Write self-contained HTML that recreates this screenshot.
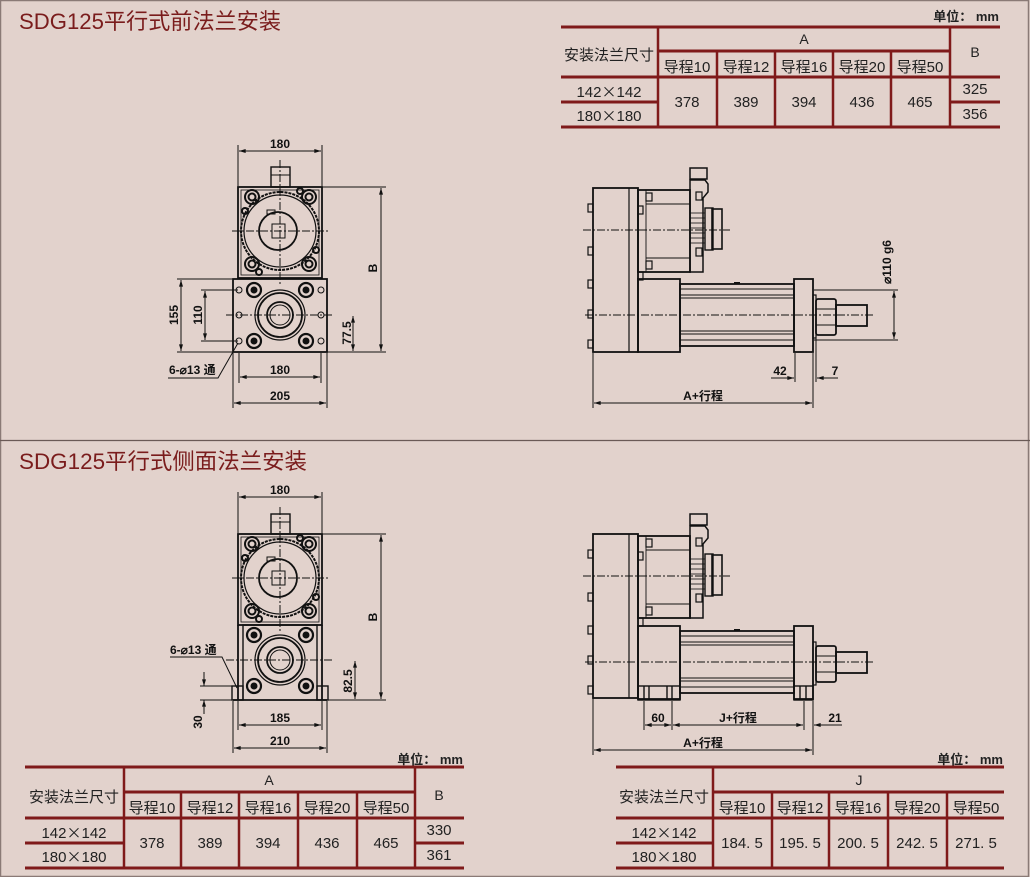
<!DOCTYPE html>
<html><head><meta charset="utf-8"><style>
html,body{margin:0;padding:0;background:#e2d2cc;}
svg{display:block}
.t{font-family:"Liberation Sans","Noto Sans CJK SC",sans-serif;}
.c{font-family:"Noto Sans CJK SC",sans-serif;}
.d{font-family:"Liberation Sans","Noto Sans CJK SC",sans-serif;font-size:12px;font-weight:bold;fill:#111;}
</style></head><body>
<svg width="1030" height="877" viewBox="0 0 1030 877" xmlns="http://www.w3.org/2000/svg">
<defs>
<marker id="a" viewBox="0 0 10 6" refX="10" refY="3" markerWidth="8" markerHeight="4" orient="auto-start-reverse"><path d="M0,0L10,3L0,6z" fill="#111"/></marker>
<g id="front">
  <rect x="238" y="187" width="84" height="91" fill="none" stroke="#111" stroke-width="1.8"/>
  <rect x="241" y="190" width="78" height="85" fill="none" stroke="#111" stroke-width="0.8"/>
  <rect x="271" y="167" width="19" height="20" fill="none" stroke="#111" stroke-width="1.4"/>
  <line x1="271" y1="175" x2="290" y2="175" stroke="#111" stroke-width="1"/>
  <circle cx="280" cy="231" r="39" fill="none" stroke="#111" stroke-width="2" stroke-dasharray="3 1"/>
  <circle cx="280" cy="231" r="36" fill="none" stroke="#111" stroke-width="1.2"/>
  <circle cx="278" cy="231" r="19" fill="none" stroke="#111" stroke-width="1.8"/>
  <rect x="272" y="224" width="13" height="14" fill="none" stroke="#111" stroke-width="1"/>
  <rect x="267" y="210" width="8" height="4" fill="none" stroke="#111" stroke-width="1"/>
  <g fill="none" stroke="#111" stroke-width="2">
   <circle cx="252" cy="197" r="7"/><circle cx="309" cy="197" r="7"/>
   <circle cx="252" cy="264" r="7"/><circle cx="309" cy="264" r="7"/>
   <circle cx="252" cy="197" r="3.5"/><circle cx="309" cy="197" r="3.5"/>
   <circle cx="252" cy="264" r="3.5"/><circle cx="309" cy="264" r="3.5"/>
   <circle cx="300" cy="191" r="3"/><circle cx="259" cy="272" r="3"/>
   <circle cx="245" cy="211" r="3"/><circle cx="316" cy="250" r="3"/>
  </g>
  <line x1="232" y1="231" x2="330" y2="231" stroke="#111" stroke-width="1" stroke-dasharray="8 2 2 2"/>
  <line x1="280" y1="160" x2="280" y2="285" stroke="#111" stroke-width="1" stroke-dasharray="8 2 2 2"/>
</g>
<g id="flangeC">
  <circle cx="280" cy="0" r="25" fill="none" stroke="#111" stroke-width="1.2"/>
  <circle cx="280" cy="0" r="22" fill="none" stroke="#111" stroke-width="1.8"/>
  <circle cx="280" cy="0" r="13" fill="none" stroke="#111" stroke-width="1.8"/>
  <circle cx="280" cy="0" r="10" fill="none" stroke="#111" stroke-width="1"/>
  <g fill="none" stroke="#111" stroke-width="2.2">
   <circle cx="254" cy="-25" r="7"/><circle cx="306" cy="-25" r="7"/>
   <circle cx="254" cy="26" r="7"/><circle cx="306" cy="26" r="7"/>
  </g>
  <g fill="#111"><circle cx="254" cy="-25" r="3.5"/><circle cx="306" cy="-25" r="3.5"/><circle cx="254" cy="26" r="3.5"/><circle cx="306" cy="26" r="3.5"/></g>
  <line x1="226" y1="0" x2="334" y2="0" stroke="#111" stroke-width="1" stroke-dasharray="8 2 2 2"/>
</g>
<g id="side">
  <rect x="593" y="0" width="45" height="164" fill="none" stroke="#111" stroke-width="1.8"/>
  <line x1="629" y1="0" x2="629" y2="164" stroke="#111" stroke-width="1.2"/>
  <g fill="none" stroke="#111" stroke-width="1.2">
   <rect x="588" y="16" width="5" height="8"/><rect x="588" y="59" width="5" height="8"/>
   <rect x="588" y="92" width="5" height="8"/><rect x="588" y="122" width="5" height="8"/><rect x="588" y="152" width="5" height="8"/>
  </g>
  <rect x="638" y="2" width="52" height="82" fill="none" stroke="#111" stroke-width="1.8"/>
  <rect x="646" y="2" width="44" height="82" fill="none" stroke="#111" stroke-width="0.9"/>
  <line x1="646" y1="16" x2="690" y2="16" stroke="#111"/><line x1="646" y1="70" x2="690" y2="70" stroke="#111"/>
  <g fill="none" stroke="#111" stroke-width="1.2">
   <rect x="646" y="5" width="6" height="8"/><rect x="646" y="73" width="6" height="8"/>
   <rect x="638" y="18" width="5" height="8"/><rect x="696" y="4" width="6" height="8"/><rect x="696" y="60" width="6" height="8"/>
  </g>
  <path d="M690,-8 L705,-8 L708,-4 L708,4 L703,10 L703,84 L690,84 Z" fill="none" stroke="#111" stroke-width="1.5"/>
  <rect x="690" y="-20" width="17" height="11" fill="none" stroke="#111" stroke-width="1.5"/>
  <g stroke="#111" stroke-width="0.8"><line x1="690" y1="25" x2="705" y2="25"/><line x1="690" y1="30" x2="705" y2="30"/><line x1="690" y1="35" x2="705" y2="35"/><line x1="690" y1="40" x2="705" y2="40"/><line x1="690" y1="45" x2="705" y2="45"/><line x1="690" y1="50" x2="705" y2="50"/><line x1="690" y1="55" x2="705" y2="55"/></g>
  <rect x="705" y="20" width="8" height="42" fill="none" stroke="#111" stroke-width="1.4"/>
  <rect x="712" y="21" width="10" height="40" fill="none" stroke="#111" stroke-width="1.6"/>
  <rect x="638" y="84" width="5" height="8" fill="none" stroke="#111" stroke-width="1.2"/>
  <line x1="583" y1="42" x2="730" y2="42" stroke="#111" stroke-width="1" stroke-dasharray="8 2 2 2"/>
</g>
<g id="cyl">
  <rect x="638" y="-36" width="42" height="73" fill="none" stroke="#111" stroke-width="1.8"/>
  <rect x="680" y="-31" width="114" height="62" fill="none" stroke="#111" stroke-width="1.8"/>
  <g stroke="#111" stroke-width="1"><line x1="680" y1="-26" x2="794" y2="-26"/><line x1="680" y1="-20" x2="794" y2="-20"/><line x1="680" y1="-17" x2="794" y2="-17"/><line x1="680" y1="16" x2="794" y2="16"/><line x1="680" y1="19" x2="794" y2="19"/><line x1="680" y1="25" x2="794" y2="25"/></g>
  <rect x="734" y="-33" width="6" height="2" fill="#111"/>
  <rect x="794" y="-36" width="19" height="73" fill="none" stroke="#111" stroke-width="1.8"/>
  <rect x="813" y="-20" width="3" height="43" fill="none" stroke="#111" stroke-width="1.2"/>
  <rect x="816" y="-16" width="20" height="36" rx="2" fill="none" stroke="#111" stroke-width="1.8"/>
  <line x1="816" y1="-6" x2="836" y2="-6" stroke="#111"/><line x1="816" y1="10" x2="836" y2="10" stroke="#111"/>
  <rect x="836" y="-10" width="31" height="21" fill="none" stroke="#111" stroke-width="1.8"/>
  <line x1="585" y1="0" x2="875" y2="0" stroke="#111" stroke-width="1" stroke-dasharray="8 2 2 2"/>
</g>
</defs>
<rect x="0.5" y="0.5" width="1028" height="876" fill="#e2d2cc" stroke="#8a7a76" stroke-width="1.5"/>
<line x1="0" y1="440.5" x2="1030" y2="440.5" stroke="#6a5a56" stroke-width="1.2"/>

<text class="t" x="19" y="29" font-size="22" fill="#7a1c1c" textLength="262" lengthAdjust="spacingAndGlyphs">SDG125平行式前法兰安装</text>
<text class="t" x="19" y="469" font-size="22" fill="#7a1c1c" textLength="288" lengthAdjust="spacingAndGlyphs">SDG125平行式侧面法兰安装</text>

<!-- ===== TOP FRONT VIEW ===== -->
<use href="#front"/>
<rect x="233" y="279" width="94" height="73" fill="none" stroke="#111" stroke-width="1.8"/>
<use href="#flangeC" y="315"/>
<g fill="none" stroke="#111" stroke-width="1"><circle cx="239" cy="290" r="3"/><circle cx="239" cy="315" r="3"/><circle cx="239" cy="341" r="3"/><circle cx="321" cy="290" r="3"/><circle cx="321" cy="315" r="3"/><circle cx="321" cy="341" r="3"/></g>
<g stroke="#111" stroke-width="1" fill="none">
 <line x1="238" y1="145" x2="238" y2="186"/><line x1="322" y1="145" x2="322" y2="186"/>
 <line x1="239" y1="151" x2="321" y2="151" marker-start="url(#a)" marker-end="url(#a)"/>
 <line x1="322" y1="187" x2="386" y2="187"/><line x1="327" y1="352" x2="386" y2="352"/>
 <line x1="381" y1="188" x2="381" y2="351" marker-start="url(#a)" marker-end="url(#a)"/>
 <line x1="177" y1="279" x2="232" y2="279"/><line x1="177" y1="352" x2="232" y2="352"/>
 <line x1="181" y1="280" x2="181" y2="351" marker-start="url(#a)" marker-end="url(#a)"/>
 <line x1="201" y1="290" x2="238" y2="290"/><line x1="201" y1="341" x2="238" y2="341"/>
 <line x1="205" y1="291" x2="205" y2="340" marker-start="url(#a)" marker-end="url(#a)"/>
 <line x1="353" y1="316" x2="353" y2="351" marker-start="url(#a)" marker-end="url(#a)"/>
 <line x1="239" y1="353" x2="239" y2="383"/><line x1="321" y1="353" x2="321" y2="383"/>
 <line x1="240" y1="377" x2="320" y2="377" marker-start="url(#a)" marker-end="url(#a)"/>
 <line x1="233" y1="353" x2="233" y2="408"/><line x1="327" y1="353" x2="327" y2="408"/>
 <line x1="234" y1="403" x2="326" y2="403" marker-start="url(#a)" marker-end="url(#a)"/>
 <polyline points="168,378 218,378 238,343"/>
</g>
<text class="d" x="280" y="148" text-anchor="middle">180</text>
<text class="d" x="280" y="374" text-anchor="middle">180</text>
<text class="d" x="280" y="400" text-anchor="middle">205</text>
<text class="d" x="169" y="374">6-⌀13 通</text>
<text class="d" transform="translate(377,268) rotate(-90)" text-anchor="middle">B</text>
<text class="d" transform="translate(178,315) rotate(-90)" text-anchor="middle">155</text>
<text class="d" transform="translate(202,315) rotate(-90)" text-anchor="middle">110</text>
<text class="d" transform="translate(351,333) rotate(-90)" text-anchor="middle">77.5</text>

<!-- ===== TOP SIDE VIEW ===== -->
<use href="#side" y="188"/>
<use href="#cyl" y="315"/>
<g stroke="#111" stroke-width="1" fill="none">
 <line x1="814" y1="290" x2="898" y2="290"/><line x1="814" y1="340" x2="898" y2="340"/>
 <line x1="894" y1="291" x2="894" y2="339" marker-start="url(#a)" marker-end="url(#a)"/>
 <line x1="593" y1="353" x2="593" y2="408"/><line x1="813" y1="353" x2="813" y2="408"/>
 <line x1="795" y1="353" x2="795" y2="382"/><line x1="816" y1="336" x2="816" y2="382"/>
 <line x1="771" y1="378" x2="794" y2="378" marker-end="url(#a)"/>
 <line x1="817" y1="378" x2="838" y2="378" marker-start="url(#a)"/>
 <line x1="594" y1="403" x2="812" y2="403" marker-start="url(#a)" marker-end="url(#a)"/>
</g>
<text class="d" x="780" y="375" text-anchor="middle">42</text>
<text class="d" x="835" y="375" text-anchor="middle">7</text>
<text class="d" x="703" y="400" text-anchor="middle">A+行程</text>
<text class="d" transform="translate(891,262) rotate(-90)" text-anchor="middle">⌀110 g6</text>

<!-- ===== BOTTOM FRONT VIEW ===== -->
<use href="#front" y="347"/>
<line x1="238" y1="625" x2="238" y2="700" stroke="#111" stroke-width="1.8"/>
<line x1="322" y1="625" x2="322" y2="700" stroke="#111" stroke-width="1.8"/>
<path d="M243,700 L243,625 L317,625 L317,700" fill="none" stroke="#111" stroke-width="1.4"/>
<line x1="233" y1="700" x2="327" y2="700" stroke="#111" stroke-width="1.8"/>
<g fill="none" stroke="#111" stroke-width="1.4"><rect x="232" y="686" width="11" height="14"/><rect x="317" y="686" width="11" height="14"/></g>
<use href="#flangeC" y="660"/>
<g stroke="#111" stroke-width="1" fill="none">
 <line x1="238" y1="492" x2="238" y2="533"/><line x1="322" y1="492" x2="322" y2="533"/>
 <line x1="239" y1="497" x2="321" y2="497" marker-start="url(#a)" marker-end="url(#a)"/>
 <line x1="322" y1="534" x2="386" y2="534"/><line x1="327" y1="700" x2="386" y2="700"/>
 <line x1="381" y1="535" x2="381" y2="699" marker-start="url(#a)" marker-end="url(#a)"/>
 <line x1="355" y1="661" x2="355" y2="699" marker-start="url(#a)" marker-end="url(#a)"/>
 <line x1="200" y1="686" x2="232" y2="686"/><line x1="200" y1="700" x2="232" y2="700"/>
 <line x1="204" y1="672" x2="204" y2="686" marker-end="url(#a)"/>
 <line x1="204" y1="714" x2="204" y2="700" marker-end="url(#a)"/>
 <line x1="238" y1="701" x2="238" y2="730"/><line x1="322" y1="701" x2="322" y2="730"/>
 <line x1="239" y1="725" x2="321" y2="725" marker-start="url(#a)" marker-end="url(#a)"/>
 <line x1="233" y1="701" x2="233" y2="753"/><line x1="327" y1="701" x2="327" y2="753"/>
 <line x1="234" y1="748" x2="326" y2="748" marker-start="url(#a)" marker-end="url(#a)"/>
 <polyline points="170,657 222,657 237,688"/>
</g>
<text class="d" x="280" y="494" text-anchor="middle">180</text>
<text class="d" x="280" y="722" text-anchor="middle">185</text>
<text class="d" x="280" y="745" text-anchor="middle">210</text>
<text class="d" x="170" y="654">6-⌀13 通</text>
<text class="d" transform="translate(377,617) rotate(-90)" text-anchor="middle">B</text>
<text class="d" transform="translate(352,681) rotate(-90)" text-anchor="middle">82.5</text>
<text class="d" transform="translate(202,722) rotate(-90)" text-anchor="middle">30</text>

<!-- ===== BOTTOM SIDE VIEW ===== -->
<use href="#side" y="534"/>
<use href="#cyl" y="662"/>
<g fill="none" stroke="#111" stroke-width="1.4">
 <rect x="638" y="686" width="42" height="14"/><rect x="794" y="686" width="19" height="14"/>
 <line x1="644" y1="686" x2="644" y2="700"/><line x1="649" y1="686" x2="649" y2="700"/>
 <line x1="667" y1="686" x2="667" y2="700"/><line x1="672" y1="686" x2="672" y2="700"/>
 <line x1="800" y1="686" x2="800" y2="700"/><line x1="806" y1="686" x2="806" y2="700"/>
</g>
<g stroke="#111" stroke-width="1" fill="none">
 <line x1="644" y1="701" x2="644" y2="730"/><line x1="672" y1="701" x2="672" y2="730"/>
 <line x1="804" y1="701" x2="804" y2="730"/><line x1="813" y1="701" x2="813" y2="755"/>
 <line x1="593" y1="698" x2="593" y2="755"/>
 <line x1="645" y1="725" x2="671" y2="725" marker-start="url(#a)" marker-end="url(#a)"/>
 <line x1="673" y1="725" x2="803" y2="725" marker-start="url(#a)" marker-end="url(#a)"/>
 <line x1="814" y1="725" x2="842" y2="725" marker-start="url(#a)"/>
 <line x1="594" y1="750" x2="812" y2="750" marker-start="url(#a)" marker-end="url(#a)"/>
</g>
<text class="d" x="658" y="722" text-anchor="middle">60</text>
<text class="d" x="738" y="722" text-anchor="middle">J+行程</text>
<text class="d" x="835" y="722" text-anchor="middle">21</text>
<text class="d" x="703" y="747" text-anchor="middle">A+行程</text>

<!-- ===== TABLES ===== -->
<g class="t" font-size="15" fill="#222">
<!-- top table -->
<text x="999" y="21" text-anchor="end" font-size="13" font-weight="bold">单位： mm</text>
<g stroke="#7f1a1a" stroke-width="3" fill="none">
 <line x1="561" y1="27" x2="1000" y2="27"/><line x1="561" y1="77" x2="1000" y2="77"/>
 <line x1="561" y1="102" x2="658" y2="102"/><line x1="950" y1="102" x2="1000" y2="102"/>
 <line x1="561" y1="127" x2="1000" y2="127"/><line x1="658" y1="51" x2="950" y2="51"/>
</g>
<g stroke="#7f1a1a" stroke-width="2.5">
 <line x1="658" y1="27" x2="658" y2="127"/><line x1="950" y1="27" x2="950" y2="127"/>
 <line x1="717" y1="51" x2="717" y2="127"/><line x1="775" y1="51" x2="775" y2="127"/>
 <line x1="833" y1="51" x2="833" y2="127"/><line x1="891" y1="51" x2="891" y2="127"/>
</g>
<text x="609" y="60" text-anchor="middle">安装法兰尺寸</text>
<text x="804" y="44" text-anchor="middle" font-size="14">A</text>
<text x="975" y="57" text-anchor="middle" font-size="14">B</text>
<text x="687" y="72" text-anchor="middle">导程10</text><text x="746" y="72" text-anchor="middle">导程12</text>
<text x="804" y="72" text-anchor="middle">导程16</text><text x="862" y="72" text-anchor="middle">导程20</text>
<text x="920" y="72" text-anchor="middle">导程50</text>
<text x="609" y="97" text-anchor="middle">142<tspan class="c">×</tspan>142</text><text x="609" y="121" text-anchor="middle">180<tspan class="c">×</tspan>180</text>
<text x="687" y="107" text-anchor="middle">378</text><text x="746" y="107" text-anchor="middle">389</text>
<text x="804" y="107" text-anchor="middle">394</text><text x="862" y="107" text-anchor="middle">436</text>
<text x="920" y="107" text-anchor="middle">465</text>
<text x="975" y="94" text-anchor="middle">325</text><text x="975" y="119" text-anchor="middle">356</text>

<!-- bottom left table -->
<text x="463" y="764" text-anchor="end" font-size="13" font-weight="bold">单位： mm</text>
<g stroke="#7f1a1a" stroke-width="3" fill="none">
 <line x1="25" y1="767" x2="464" y2="767"/><line x1="25" y1="818" x2="464" y2="818"/>
 <line x1="25" y1="843" x2="124" y2="843"/><line x1="415" y1="843" x2="464" y2="843"/>
 <line x1="25" y1="868" x2="464" y2="868"/><line x1="124" y1="792" x2="415" y2="792"/>
</g>
<g stroke="#7f1a1a" stroke-width="2.5">
 <line x1="124" y1="767" x2="124" y2="868"/><line x1="415" y1="767" x2="415" y2="868"/>
 <line x1="181" y1="792" x2="181" y2="868"/><line x1="239" y1="792" x2="239" y2="868"/>
 <line x1="298" y1="792" x2="298" y2="868"/><line x1="357" y1="792" x2="357" y2="868"/>
</g>
<text x="74" y="802" text-anchor="middle">安装法兰尺寸</text>
<text x="269" y="785" text-anchor="middle" font-size="14">A</text>
<text x="439" y="800" text-anchor="middle" font-size="14">B</text>
<text x="152" y="813" text-anchor="middle">导程10</text><text x="210" y="813" text-anchor="middle">导程12</text>
<text x="268" y="813" text-anchor="middle">导程16</text><text x="327" y="813" text-anchor="middle">导程20</text>
<text x="386" y="813" text-anchor="middle">导程50</text>
<text x="74" y="838" text-anchor="middle">142<tspan class="c">×</tspan>142</text><text x="74" y="862" text-anchor="middle">180<tspan class="c">×</tspan>180</text>
<text x="152" y="848" text-anchor="middle">378</text><text x="210" y="848" text-anchor="middle">389</text>
<text x="268" y="848" text-anchor="middle">394</text><text x="327" y="848" text-anchor="middle">436</text>
<text x="386" y="848" text-anchor="middle">465</text>
<text x="439" y="835" text-anchor="middle">330</text><text x="439" y="860" text-anchor="middle">361</text>

<!-- bottom right table -->
<text x="1003" y="764" text-anchor="end" font-size="13" font-weight="bold">单位： mm</text>
<g stroke="#7f1a1a" stroke-width="3" fill="none">
 <line x1="616" y1="767" x2="1004" y2="767"/><line x1="616" y1="818" x2="1004" y2="818"/>
 <line x1="616" y1="843" x2="713" y2="843"/>
 <line x1="616" y1="868" x2="1004" y2="868"/><line x1="713" y1="792" x2="1004" y2="792"/>
</g>
<g stroke="#7f1a1a" stroke-width="2.5">
 <line x1="713" y1="767" x2="713" y2="868"/>
 <line x1="772" y1="792" x2="772" y2="868"/><line x1="829" y1="792" x2="829" y2="868"/>
 <line x1="888" y1="792" x2="888" y2="868"/><line x1="947" y1="792" x2="947" y2="868"/>
</g>
<text x="664" y="802" text-anchor="middle">安装法兰尺寸</text>
<text x="859" y="785" text-anchor="middle" font-size="14">J</text>
<text x="742" y="813" text-anchor="middle">导程10</text><text x="800" y="813" text-anchor="middle">导程12</text>
<text x="858" y="813" text-anchor="middle">导程16</text><text x="917" y="813" text-anchor="middle">导程20</text>
<text x="976" y="813" text-anchor="middle">导程50</text>
<text x="664" y="838" text-anchor="middle">142<tspan class="c">×</tspan>142</text><text x="664" y="862" text-anchor="middle">180<tspan class="c">×</tspan>180</text>
<text x="742" y="848" text-anchor="middle">184. 5</text><text x="800" y="848" text-anchor="middle">195. 5</text>
<text x="858" y="848" text-anchor="middle">200. 5</text><text x="917" y="848" text-anchor="middle">242. 5</text>
<text x="976" y="848" text-anchor="middle">271. 5</text>
</g>
</svg>
</body></html>
